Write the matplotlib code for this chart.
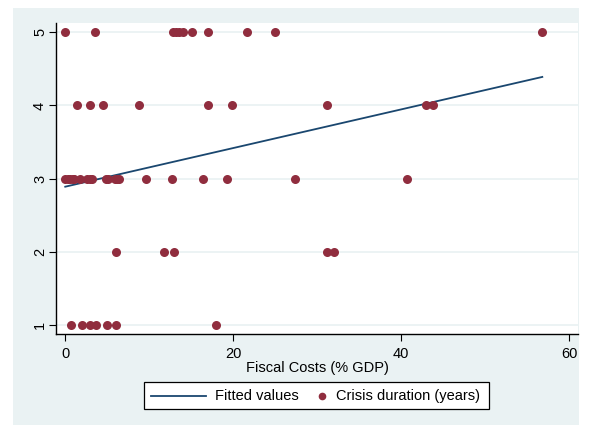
import numpy as np
import matplotlib
matplotlib.use('Agg')
import matplotlib.pyplot as plt
from matplotlib.patches import Rectangle
from matplotlib.lines import Line2D

plt.rcParams['font.family'] = ['Liberation Sans', 'DejaVu Sans']
plt.rcParams['font.size'] = 10.5

# Crisis duration (years) vs fiscal cost (% GDP)
cost_dur5 = [0.0, 3.6, 12.8, 13.2, 13.5, 14.0, 15.1, 17.0, 21.7, 25.0, 56.8]
cost_dur4 = [1.45, 3.0, 4.5, 8.8, 17.0, 19.9, 31.2, 42.9, 43.8]
cost_dur3 = [0.0, 0.3, 0.6, 0.9, 1.1, 1.8, 2.6, 2.9, 3.2, 4.9, 5.1, 5.9, 6.2,
             6.4, 9.6, 12.7, 16.4, 19.3, 27.3, 40.7]
cost_dur2 = [6.05, 11.8, 13.0, 31.2, 32.0]
cost_dur1 = [0.7, 2.0, 3.0, 3.7, 5.0, 6.05, 18.0]

fit_x = [0.0, 56.8]
fit_y = [2.89, 4.39]

x_ticks = [0, 20, 40, 60]
y_ticks = [1, 2, 3, 4, 5]

costs = np.array(cost_dur5 + cost_dur4 + cost_dur3 + cost_dur2 + cost_dur1)
duration = np.array([5]*len(cost_dur5) + [4]*len(cost_dur4) + [3]*len(cost_dur3)
                    + [2]*len(cost_dur2) + [1]*len(cost_dur1))

navy = '#1A476F'
maroon = '#902D3E'
bluegray = '#EAF2F3'

fig = plt.figure(figsize=(5.91, 4.26), dpi=100)
fig.patch.set_facecolor('white')

# stata style graph region (pixel coords from top-left)
def px(x, y):
    return x / 100, (426 - y) / 100

t = fig.dpi_scale_trans
fig.patches.append(Rectangle(px(13, 425), 5.66, 4.17, transform=t,
                             facecolor=bluegray, edgecolor='none', zorder=-5))

ax = fig.add_axes([56/591, (426-334)/426, (578-56)/591, (334-23)/426])
ax.set_facecolor('white')

ax.plot(fit_x, fit_y, color=navy, lw=1.3, zorder=3)
ax.plot(costs, duration, 'o', color=maroon, ms=6.5, mew=0, zorder=4)

ax.set_xlim(-1.1, 61.05)
ax.set_ylim(0.877, 5.127)
ax.set_xticks(x_ticks)
ax.set_yticks(y_ticks)
ax.grid(axis='y', color=bluegray, lw=1.3, zorder=0)
ax.set_axisbelow(True)

for s in ['top', 'right']:
    ax.spines[s].set_visible(False)
ax.spines['left'].set_linewidth(1.0)
ax.spines['bottom'].set_linewidth(1.0)

ax.tick_params(axis='both', length=5, width=0.8, color='black', labelsize=10.5)
ax.tick_params(axis='y', labelrotation=90, pad=1.5)
ax.tick_params(axis='x', pad=4.5)
for lab in ax.get_yticklabels():
    lab.set_va('center')

ax.set_xlabel('Fiscal Costs (% GDP)', fontsize=10.5, labelpad=0)

# legend drawn by hand to match stata's layout
fig.patches.append(Rectangle(px(144, 409), 3.45, 0.27, transform=t,
                             facecolor='white', edgecolor='black', lw=0.9, zorder=5))
lx0, ly = px(151, 396)
lx1, _ = px(206, 396)
fig.lines.append(Line2D([lx0, lx1], [ly, ly], transform=t, color=navy, lw=1.3, zorder=6))
mx, _ = px(322, 396)
fig.lines.append(Line2D([mx], [ly], transform=t, marker='o', color=maroon, ms=5.5,
                        mew=0, linestyle='none', zorder=6))
tx, _ = px(215, 396)
fig.text(tx, ly, 'Fitted values', transform=t, va='center', ha='left', fontsize=10.5, zorder=7)
tx2, _ = px(336, 396)
fig.text(tx2, ly, 'Crisis duration (years)', transform=t, va='center', ha='left',
         fontsize=10.5, zorder=7)

plt.savefig('out.png', dpi=100)
